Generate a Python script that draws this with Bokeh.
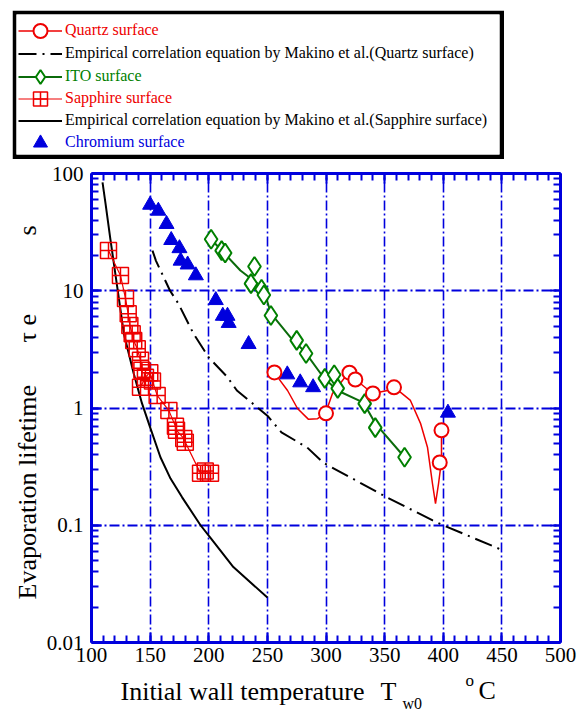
import math
from bokeh.plotting import figure
from bokeh.models import (FixedTicker, LinearAxis, LogAxis, Range1d, Label, Legend,
                          LegendItem, CustomJSTickFormatter)
from bokeh.layouts import column, row
from bokeh.embed import file_html
from bokeh.resources import INLINE

# ---------------- data ----------------
quartz_T = [256, 300, 320, 325, 340, 358, 398.5, 397]
quartz_tau = [2.01, 0.90, 2.0, 1.75, 1.33, 1.5, 0.645, 0.343]
quartz_line_T = [256, 259.5, 267.2, 275.7, 285.1, 292.8, 299.6, 305.5, 318.3, 325.2,
                 339.7, 352.5, 358.4, 372, 380.6, 386.6, 390.8, 393.4, 396, 398.5, 398.5]
quartz_line_tau = [2.01, 1.79, 1.41, 0.99, 0.80, 0.81, 0.90, 1.33, 1.95, 1.75,
                   1.33, 1.41, 1.5, 1.16, 0.74, 0.46, 0.227, 0.153, 0.227, 0.356, 0.645]

ito_T = [202, 211, 214, 239, 236, 245, 247, 253, 275, 283, 299, 307, 310, 333, 342, 367]
ito_tau = [27.5, 22, 21, 16.1, 11.5, 10.3, 9.2, 6.15, 3.77, 2.92, 1.79, 1.92, 1.47, 1.09, 0.68, 0.38]
ito_line_T = [202, 212.6, 227, 241.6, 248.4, 253, 269.7, 282.5, 297.9, 309.8, 332, 342, 367]
ito_line_tau = [27.5, 21.2, 14.9, 11.5, 9.1, 6.4, 4.0, 2.97, 1.82, 1.41, 1.11, 0.74, 0.38]

sapphire_T = [114.5, 124.7, 129, 131.3, 132.7, 134.7, 136, 139, 141.8, 143, 141.8, 146,
              149.7, 152, 156, 166, 171.6, 172.5, 178.7, 180, 193, 197, 201.5]
sapphire_tau = [22, 13.5, 8.6, 6.35, 5.06, 4.3, 3.77, 3.2, 2.55, 2.1, 1.5, 1.83,
                2.0, 1.7, 1.28, 0.95, 0.7, 0.645, 0.55, 0.51, 0.277, 0.29, 0.277]

chromium_T = [150, 157, 164, 168, 175, 176, 182, 189, 206, 212, 216, 217, 234, 267, 278, 289, 404]
chromium_tau = [54, 48, 37, 27, 23, 18, 16.7, 13.5, 8.3, 6.1, 6.1, 5.3, 3.5, 1.93, 1.65, 1.5, 0.91]

makino_quartz_T = [152, 155, 167, 174, 187, 200, 216, 224, 250, 262, 284, 298, 352, 391, 400, 451]
makino_quartz_tau = [22, 18, 10, 7.8, 4.3, 2.7, 1.83, 1.41, 0.86, 0.62, 0.46, 0.34, 0.173, 0.11, 0.1, 0.061]

makino_sapphire_T = [109.4, 112, 116, 122, 127.6, 136, 143, 150.3, 158.8, 167.4, 177.3, 193, 201.5, 221, 250]
makino_sapphire_tau = [84, 55, 28, 10.7, 4.3, 1.97, 1.1, 0.67, 0.38, 0.25, 0.173, 0.1, 0.078, 0.044, 0.0242]

x_major = [100, 150, 200, 250, 300, 350, 400, 450, 500]
x_minor = list(range(100, 501, 10))
y_major = [0.01, 0.1, 1, 10, 100]
y_minor = [k * 10.0 ** d for d in range(-2, 2) for k in range(1, 11)]

labels = ["Quartz surface",
          "Empirical correlation equation by Makino et al.(Quartz surface)",
          "ITO surface",
          "Sapphire surface",
          "Empirical correlation equation by Makino et al.(Sapphire surface)",
          "Chromium surface"]

# ---------------- styles ----------------
BLUE = "#0000dd"
RED = "#ee0000"
GREEN = "#008000"
DKGREEN = "#0b6b0b"
SERIF = "Liberation Serif"

p = figure(width=541, height=513, x_range=Range1d(100, 500), y_range=Range1d(0.01, 100),
           y_axis_type="log", toolbar_location=None, output_backend="svg",
           min_border_left=48, min_border_right=24, min_border_top=14, min_border_bottom=30,
           outline_line_color=None)
p.frame_align = False

x_ticker = FixedTicker(ticks=x_major, minor_ticks=x_minor)
y_ticker = FixedTicker(ticks=y_major, minor_ticks=y_minor)
blank = CustomJSTickFormatter(code="return ''")

p.add_layout(LinearAxis(ticker=x_ticker, formatter=blank), "above")
p.add_layout(LogAxis(ticker=y_ticker, formatter=blank), "right")
p.xaxis[0].ticker = x_ticker
p.yaxis[0].ticker = y_ticker
p.yaxis[0].formatter = CustomJSTickFormatter(code="return tick.toString()")

for ax in list(p.xaxis) + list(p.yaxis):
    ax.axis_line_color = BLUE
    ax.axis_line_width = 3
    ax.major_tick_line_color = BLUE
    ax.major_tick_line_width = 2
    ax.minor_tick_line_color = BLUE
    ax.minor_tick_line_width = 2
    ax.major_tick_in = 10
    ax.major_tick_out = 0
    ax.minor_tick_in = 7
    ax.minor_tick_out = 0
    ax.major_label_text_font = SERIF
    ax.major_label_text_font_size = "21px"
    ax.major_label_text_color = "black"

p.xaxis[0].major_label_standoff = 6
p.yaxis[0].major_label_standoff = 8
for ax in (p.above[0], p.right[0]):
    ax.major_label_text_font_size = "2px"
    ax.major_label_standoff = 0

p.xgrid.ticker = x_ticker
p.ygrid.ticker = y_ticker
p.xgrid.grid_line_color = BLUE
p.xgrid.grid_line_width = 1.6
p.xgrid.grid_line_dash = "10 3 2 3"
p.ygrid.grid_line_color = BLUE
p.ygrid.grid_line_width = 2
p.ygrid.grid_line_dash = "10 3 2 3"


def draw(fig):
    r = {}
    r["mq"] = fig.line(makino_quartz_T, makino_quartz_tau, line_color="black", line_width=2,
                       line_dash="18 6 2 6")
    r["ms"] = fig.line(makino_sapphire_T, makino_sapphire_tau, line_color="black", line_width=2)
    r["sl"] = fig.line(sapphire_T, sapphire_tau, line_color=RED, line_width=1.2)
    r["il"] = fig.line(ito_line_T, ito_line_tau, line_color=DKGREEN, line_width=2)
    r["ql"] = fig.line(quartz_line_T, quartz_line_tau, line_color=RED, line_width=1.5)
    r["cp"] = fig.scatter(chromium_T, chromium_tau, marker="triangle", size=15,
                          fill_color=BLUE, line_color=BLUE)
    r["sp"] = fig.scatter(sapphire_T, sapphire_tau, marker="square_cross", size=16,
                          fill_alpha=0, line_color=RED, line_width=1.5)
    r["ip"] = fig.scatter(ito_T, ito_tau, marker="diamond", size=19,
                          fill_color="white", line_color=GREEN, line_width=2)
    r["qp"] = fig.scatter(quartz_T, quartz_tau, marker="circle", size=14,
                          fill_color="white", line_color=RED, line_width=2)
    return r


draw(p)


def blank_fig(w, h):
    f = figure(width=w, height=h, x_range=Range1d(0, 1), y_range=Range1d(0, 1),
               toolbar_location=None, output_backend="svg",
               x_axis_location=None, y_axis_location=None,
               min_border_left=0, min_border_right=0, min_border_top=0, min_border_bottom=0,
               outline_line_color=None, border_fill_color="white", background_fill_color="white")
    f.frame_align = False
    f.grid.visible = False
    return f


def lab(fig, text, x, y, size="26px", angle=0.0):
    fig.add_layout(Label(x=x, y=y, x_units="screen", y_units="screen", text=text,
                         text_font=SERIF, text_font_size=size, text_color="black",
                         text_baseline="alphabetic", text_align="left", angle=angle))


# y-axis title strip (left of the chart)
yf = blank_fig(43, 513)
lab(yf, "Evaporation lifetime", 27, 73, angle=math.pi / 2)
lab(yf, "\u03c4 e", 27, 330, angle=math.pi / 2)
lab(yf, "s", 27, 437, angle=math.pi / 2)

# x-axis title strip (below the chart)
xf = blank_fig(584, 41)
lab(xf, "Initial wall temperature", 120, 22)
lab(xf, "T", 380, 22)
lab(xf, "w0", 402, 10, size="16px")
lab(xf, "o", 465, 33, size="17px")
lab(xf, "C", 478, 23)

# ---------------- legend box ----------------
lf = figure(width=492, height=149, x_range=Range1d(0, 1), y_range=Range1d(0, 1),
            toolbar_location=None, output_backend="svg",
            x_axis_location=None, y_axis_location=None,
            min_border_left=4, min_border_right=5, min_border_top=4, min_border_bottom=5,
            border_fill_color="black", background_fill_color="white",
            outline_line_color=None, margin=(10, 0, 0, 12))
lf.frame_align = False
lf.grid.visible = False
lr = draw(lf)

items = [[lr["ql"], lr["qp"]], [lr["mq"]], [lr["il"], lr["ip"]], [lr["sl"], lr["sp"]],
         [lr["ms"]], [lr["cp"]]]
colors = [RED, "black", GREEN, RED, "black", BLUE]
centers = [124, 101, 78, 56, 34, 12]
for lbl, rends, col, cy in zip(labels, items, colors, centers):
    leg = Legend(items=[LegendItem(label=lbl, renderers=rends)],
                 location=(2, cy - 17.5), padding=0, margin=0, spacing=0,
                 glyph_width=44, glyph_height=35, label_height=20, label_standoff=3,
                 label_text_font=SERIF, label_text_font_size="16px",
                 label_text_color=col, border_line_alpha=0, background_fill_alpha=0)
    lf.add_layout(leg)

layout = column(lf, row(yf, p, spacing=0), xf, spacing=0)
open("out.html", "w").write(file_html(layout, INLINE))
